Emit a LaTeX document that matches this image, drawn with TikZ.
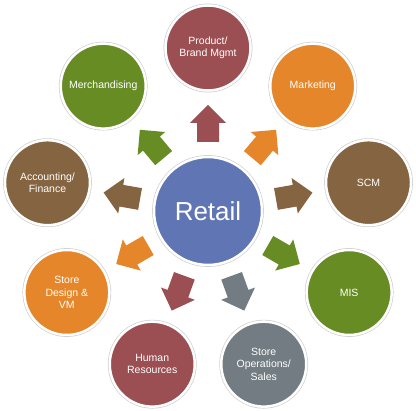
\documentclass[tikz,border=0pt]{standalone}
\usepackage{fontspec}
\setmainfont{Liberation Sans}
\usetikzlibrary{calc}

\definecolor{retailblue}{RGB}{96,117,180}
\definecolor{wine}{RGB}{156,79,83}
\definecolor{amber}{RGB}{230,134,42}
\definecolor{bark}{RGB}{133,101,65}
\definecolor{leaf}{RGB}{104,140,36}
\definecolor{slate}{RGB}{114,124,130}

\begin{document}
\begin{tikzpicture}[x=1pt, y=1pt]
            \tikzset{ring/.style={circle, fill=#1, draw=white, line width=2.5pt,
                preaction={draw=black!20, line width=3.8pt},
                text=white, align=center, inner sep=0pt, minimum size=85pt,
                font=\fontsize{10.5}{12.5}\selectfont}}
            \useasboundingbox (0,0) rectangle (416,411);
            \node[ring=retailblue, minimum size=108pt, font=\fontsize{26}{30}\selectfont] (retail) at (208,200) {Retail};
            % outer circles and block arrows, clockwise from the top
            \foreach \name/\txt/\col [count=\i from 0] in {
                    product/{Product/\\Brand Mgmt}/wine,
                    marketing/{Marketing}/amber,
                    scm/{SCM}/bark,
                    mis/{MIS}/leaf,
                    storeops/{Store\\Operations/\\Sales}/slate,
                    hr/{Human\\Resources}/wine,
                    design/{Store\\Design \&\\VM}/amber,
                    accounting/{Accounting/\\Finance}/bark,
                    merch/{Merchandising}/leaf}{
                \pgfmathsetmacro\ang{90-40*\i}
                \node[ring=\col] (\name) at ($(retail)+(\ang:163)$) {\txt};
                \fill[\col, shift={(retail.center)}, rotate=\ang]
                    (69,-11) -- (88,-11) -- (88,-18) -- (106,0) -- (88,18) -- (88,11) -- (69,11) -- cycle;
            }
        \end{tikzpicture}
\end{document}
